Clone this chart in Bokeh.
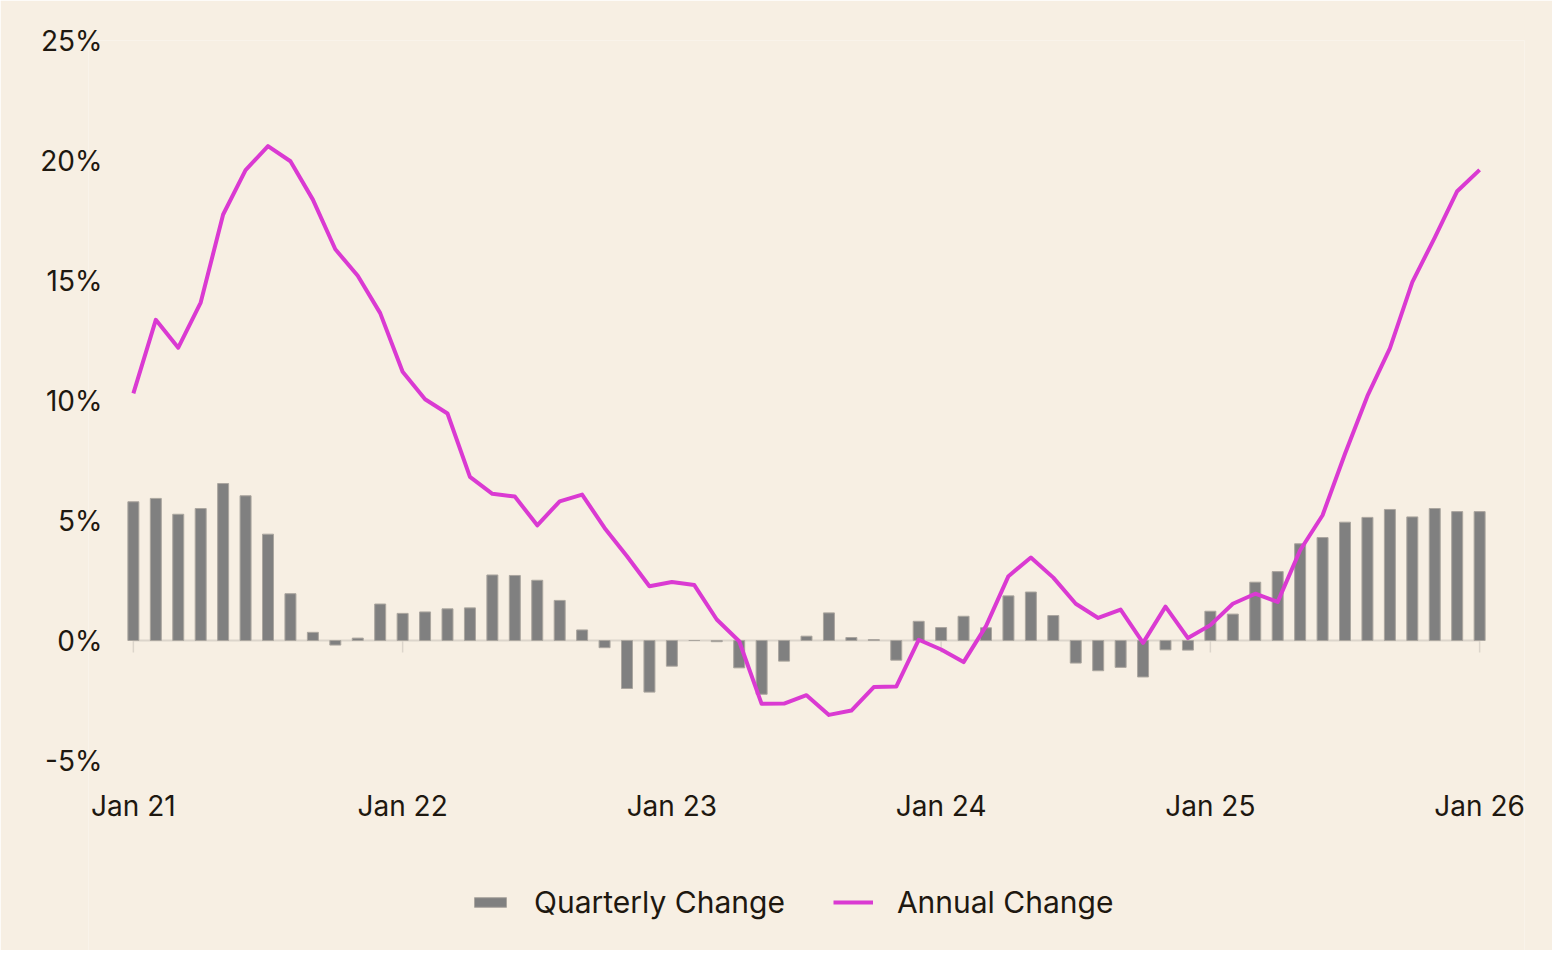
from bokeh.plotting import figure
from bokeh.models import (Range1d, FixedTicker, PrintfTickFormatter, Legend, LegendItem)
from bokeh.embed import file_html
from bokeh.resources import INLINE

# ---------------- data ----------------
month_index = list(range(61))  # Jan 21 .. Jan 26, monthly
quarterly_change = [5.78, 5.92, 5.26, 5.5, 6.54, 6.03, 4.43, 1.95, 0.34, -0.19,
                    0.1, 1.52, 1.13, 1.19, 1.32, 1.36, 2.73, 2.71, 2.51, 1.67,
                    0.44, -0.3, -2.0, -2.15, -1.07, 0.0, -0.05, -1.14, -2.24, -0.86,
                    0.18, 1.15, 0.125, 0.04, -0.82, 0.8, 0.54, 1.01, 0.53, 1.86,
                    2.02, 1.04, -0.94, -1.26, -1.12, -1.52, -0.39, -0.4, 1.22, 1.1,
                    2.43, 2.87, 4.03, 4.29, 4.93, 5.13, 5.46, 5.15, 5.5, 5.37, 5.37]
annual_change = [10.3, 13.36, 12.2, 14.08, 17.75, 19.6, 20.6, 19.97, 18.37, 16.3,
                 15.2, 13.64, 11.2, 10.05, 9.46, 6.82, 6.11, 6.0, 4.8, 5.8,
                 6.08, 4.69, 3.51, 2.26, 2.44, 2.31, 0.875, -0.03, -2.64, -2.63,
                 -2.28, -3.1, -2.92, -1.94, -1.92, 0.03, -0.375, -0.9, 0.6, 2.68,
                 3.46, 2.62, 1.53, 0.94, 1.29, -0.1, 1.41, 0.1, 0.64, 1.53,
                 1.95, 1.61, 3.76, 5.22, 7.78, 10.19, 12.17, 14.93, 16.79, 18.72, 19.61]
x_tick_positions = [0, 12, 24, 36, 48, 60]
x_tick_labels = ["Jan 21", "Jan 22", "Jan 23", "Jan 24", "Jan 25", "Jan 26"]
y_ticks = [-5, 0, 5, 10, 15, 20, 25]

BG = "#F7EFE3"
TEXT = "#1E1810"
FONT = "Inter"
FS = "28px"

# frame extends below the -5% level (legend inside) and 2 months each side (x labels)
PX_PER_PCT = 24
PX_PER_MONTH = 22.43
PAD_MONTHS = 2
FRAME_H = 910
y_top = y_ticks[-1]
y_bottom = y_top - FRAME_H / PX_PER_PCT
x_lo = x_tick_positions[0] - PAD_MONTHS
x_hi = x_tick_positions[-1] + PAD_MONTHS
FRAME_W = int(round((x_hi - x_lo) * PX_PER_MONTH))

p = figure(frame_width=FRAME_W, frame_height=FRAME_H, output_backend="svg", toolbar_location=None,
           x_range=Range1d(x_lo, x_hi), y_range=Range1d(y_bottom, y_top),
           min_border_left=88, min_border_right=28, min_border_top=40, min_border_bottom=0)
p.background_fill_color = BG
p.border_fill_color = BG
p.outline_line_color = None
p.xgrid.visible = False
p.ygrid.visible = False

# zero line and year ticks
p.segment(x0=[x_tick_positions[0]], y0=[0], x1=[x_tick_positions[-1]], y1=[0],
          line_color="#DCD5CB", line_width=2, level="underlay")
p.segment(x0=x_tick_positions, y0=[0] * len(x_tick_positions), x1=x_tick_positions,
          y1=[-0.5] * len(x_tick_positions), line_color="#DCD5CB", line_width=1.5, level="underlay")

bars = p.vbar(x=month_index, top=quarterly_change, bottom=0, width=0.49,
              fill_color="#808080", line_color="#ABA69F", line_width=1)
line = p.line(x=month_index, y=annual_change, line_color="#DA3AD2", line_width=4,
              line_join="round")

# axes
xa = p.xaxis[0]
xa.fixed_location = y_ticks[0]
xa.ticker = FixedTicker(ticks=x_tick_positions)
xa.major_label_overrides = {t: l for t, l in zip(x_tick_positions, x_tick_labels)}
xa.axis_line_color = None
xa.major_tick_line_color = None
xa.minor_tick_line_color = None
xa.major_label_standoff = 22
xa.major_label_text_font = FONT
xa.major_label_text_font_size = FS
xa.major_label_text_color = TEXT

ya = p.yaxis[0]
ya.ticker = FixedTicker(ticks=y_ticks)
ya.formatter = PrintfTickFormatter(format="%d%%")
ya.axis_line_color = None
ya.major_tick_line_color = None
ya.minor_tick_line_color = None
ya.major_tick_out = 0
ya.major_tick_in = 0
ya.major_label_standoff = -14
ya.major_label_text_font = FONT
ya.major_label_text_font_size = FS
ya.major_label_text_color = TEXT

legend = Legend(items=[LegendItem(label="Quarterly Change", renderers=[bars]),
                       LegendItem(label="Annual Change", renderers=[line])],
                orientation="horizontal", location=(382, 30),
                background_fill_alpha=0, border_line_color=None,
                label_text_font=FONT, label_text_font_size="30px", label_text_color=TEXT,
                glyph_width=40, glyph_height=12, label_standoff=24, spacing=48,
                padding=0, margin=0)
p.add_layout(legend, "center")

open("out.html", "w").write(file_html(p, INLINE))
